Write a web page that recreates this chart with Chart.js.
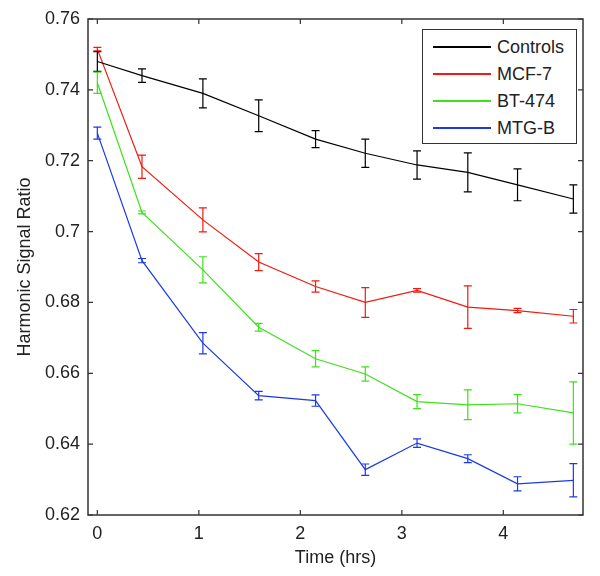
<!DOCTYPE html>
<html lang="en">
<head>
    <meta charset="UTF-8">
    <title>Harmonic Signal Ratio</title>
    <style>
        body {
            margin: 0;
            padding: 0;
            background-color: #fff;
        }
        .wrap {
            position: relative;
            width: 600px;
            height: 576px;
        }
        .legend {
            position: absolute;
            left: 422px;
            top: 29px;
            width: 155px;
            height: 115px;
            box-sizing: border-box;
            border: 1px solid #333;
            background-color: #fff;
            font-family: "Liberation Sans", Arial, sans-serif;
            font-size: 18px;
            color: #222;
        }
        .legend .row {
            position: absolute;
            left: 0;
            height: 24px;
            line-height: 24px;
            width: 100%;
        }
        .legend .swatch {
            position: absolute;
            left: 10px;
            top: 11px;
            width: 58px;
            height: 2px;
        }
        .legend .label {
            position: absolute;
            left: 74px;
            top: 0;
        }
    </style>
</head>
<body>
    <div class="wrap">
        <canvas id="chart" width="600" height="576"></canvas>
        <div class="legend" id="legend"></div>
    </div>

    <script src="https://cdn.jsdelivr.net/npm/chart.js"></script>
    <script>
        // Данные
        const times = [0, 0.44, 1.04, 1.59, 2.15, 2.64, 3.15, 3.65, 4.14, 4.69];
        const seriesNames = ['Controls', 'MCF-7', 'BT-474', 'MTG-B'];

        const controls = [0.748, 0.744, 0.739, 0.7327, 0.7261, 0.7221, 0.7188, 0.7167, 0.7132, 0.7092];
        const controlsErr = [0.0028, 0.0019, 0.0041, 0.0045, 0.0024, 0.004, 0.004, 0.0055, 0.0045, 0.004];

        const mcf7 = [0.7515, 0.7183, 0.7033, 0.6914, 0.6845, 0.680, 0.6834, 0.6787, 0.6777, 0.6761];
        const mcf7Err = [0.0005, 0.0033, 0.0034, 0.0024, 0.0016, 0.0042, 0.0005, 0.006, 0.0006, 0.0019];

        const bt474 = [0.742, 0.7054, 0.6892, 0.673, 0.6641, 0.6598, 0.652, 0.6511, 0.6514, 0.6488];
        const bt474Err = [0.003, 0.0004, 0.0037, 0.0011, 0.0023, 0.002, 0.002, 0.0042, 0.0026, 0.0088];

        const mtgb = [0.7278, 0.6918, 0.6685, 0.6537, 0.6523, 0.6328, 0.6403, 0.6359, 0.6288, 0.6298];
        const mtgbErr = [0.0017, 0.0006, 0.003, 0.0012, 0.0016, 0.0016, 0.0012, 0.0011, 0.002, 0.0047];

        const xTicks = [0, 1, 2, 3, 4];
        const yTicks = [0.62, 0.64, 0.66, 0.68, 0.7, 0.72, 0.74, 0.76];

        const colors = ['#000000', '#f01a10', '#3ee01a', '#1a3ae6'];
        const values = [controls, mcf7, bt474, mtgb];
        const errors = [controlsErr, mcf7Err, bt474Err, mtgbErr];

        const FONT = '"Liberation Sans", Arial, sans-serif';

        // Планки погрешностей + рамка с внутренними засечками
        const errorBarsPlugin = {
            id: 'errorBars',
            afterDatasetsDraw(chart) {
                const ctx = chart.ctx;
                const xs = chart.scales.x;
                const ys = chart.scales.y;
                ctx.save();
                chart.data.datasets.forEach((ds, i) => {
                    ctx.strokeStyle = ds.borderColor;
                    ctx.lineWidth = 1.2;
                    ds.data.forEach((p, j) => {
                        const e = errors[i][j];
                        const x = xs.getPixelForValue(p.x);
                        const y1 = ys.getPixelForValue(p.y - e);
                        const y2 = ys.getPixelForValue(p.y + e);
                        ctx.beginPath();
                        ctx.moveTo(x, y1); ctx.lineTo(x, y2);
                        ctx.moveTo(x - 4, y1); ctx.lineTo(x + 4, y1);
                        ctx.moveTo(x - 4, y2); ctx.lineTo(x + 4, y2);
                        ctx.stroke();
                    });
                });

                const a = chart.chartArea;
                ctx.strokeStyle = '#333';
                ctx.lineWidth = 1.5;
                ctx.strokeRect(a.left, a.top, a.right - a.left, a.bottom - a.top);
                ctx.lineWidth = 1.2;
                ctx.beginPath();
                xTicks.forEach(t => {
                    const x = xs.getPixelForValue(t);
                    ctx.moveTo(x, a.bottom); ctx.lineTo(x, a.bottom - 5);
                    ctx.moveTo(x, a.top); ctx.lineTo(x, a.top + 5);
                });
                yTicks.forEach(t => {
                    const y = ys.getPixelForValue(t);
                    ctx.moveTo(a.left, y); ctx.lineTo(a.left + 5, y);
                    ctx.moveTo(a.right, y); ctx.lineTo(a.right - 5, y);
                });
                ctx.stroke();
                ctx.restore();
            }
        };

        new Chart(document.getElementById('chart'), {
            type: 'line',
            data: {
                datasets: seriesNames.map((name, i) => ({
                    label: name,
                    data: times.map((t, j) => ({ x: t, y: values[i][j] })),
                    borderColor: colors[i],
                    borderWidth: 1.2,
                    pointRadius: 0,
                    tension: 0,
                    fill: false
                }))
            },
            options: {
                responsive: false,
                animation: false,
                layout: { padding: { top: 19, right: 17, left: 0, bottom: 0 } },
                plugins: {
                    legend: { display: false },
                    tooltip: { enabled: false }
                },
                scales: {
                    x: {
                        type: 'linear',
                        min: -0.092,
                        max: 4.785,
                        afterBuildTicks: s => { s.ticks = xTicks.map(v => ({ value: v })); },
                        afterFit: s => { s.height = 61; },
                        grid: { display: false, drawTicks: false },
                        border: { display: false },
                        ticks: {
                            padding: 8,
                            color: '#222',
                            font: { family: FONT, size: 18 },
                            maxRotation: 0,
                            callback: v => String(v)
                        },
                        title: {
                            display: true,
                            text: 'Time (hrs)',
                            color: '#222',
                            font: { family: FONT, size: 18 },
                            padding: { top: 0, bottom: 7 }
                        }
                    },
                    y: {
                        min: 0.62,
                        max: 0.76,
                        afterBuildTicks: s => { s.ticks = yTicks.map(v => ({ value: v })); },
                        afterFit: s => { s.width = 88; },
                        grid: { display: false, drawTicks: false },
                        border: { display: false },
                        ticks: {
                            padding: 8,
                            color: '#222',
                            font: { family: FONT, size: 18 },
                            callback: v => String(+v.toFixed(2))
                        },
                        title: {
                            display: true,
                            text: 'Harmonic Signal Ratio',
                            color: '#222',
                            font: { family: FONT, size: 18 },
                            padding: { top: 14, bottom: 0 }
                        }
                    }
                }
            },
            plugins: [errorBarsPlugin]
        });

        // Легенда поверх графика
        const legendTops = [5, 32, 59, 86];
        document.getElementById('legend').innerHTML = seriesNames.map((name, i) => `
            <div class="row" style="top:${legendTops[i]}px">
                <span class="swatch" style="background-color:${colors[i]}"></span>
                <span class="label">${name}</span>
            </div>
        `).join('');
    </script>
</body>
</html>
